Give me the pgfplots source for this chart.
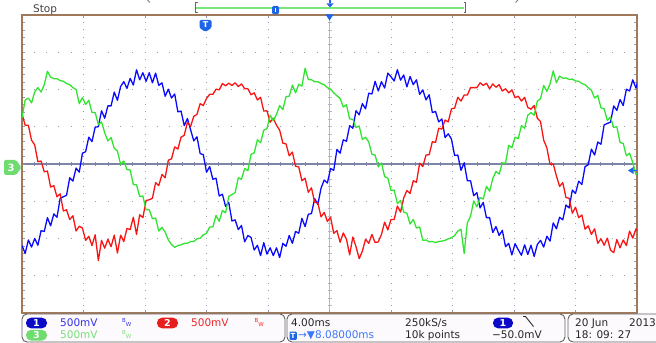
\documentclass[border=0pt]{standalone}
\usepackage{pgfplots}
\pgfplotsset{compat=1.18}
\usepackage{pgfplotstable}
\usepackage{fontspec}
\setmainfont{DejaVu Sans}
\newcommand{\sz}{\fontsize{10.5bp}{12bp}\selectfont}
\definecolor{chblue}{RGB}{10,10,255}
\definecolor{chred}{RGB}{250,20,20}
\definecolor{chgreen}{RGB}{50,228,50}
\definecolor{framec}{RGB}{160,120,90}
\definecolor{griddot}{RGB}{150,155,180}
\definecolor{centerline}{RGB}{125,132,165}
\definecolor{vcenter}{RGB}{180,182,200}
\definecolor{pillblue}{RGB}{10,10,200}
\definecolor{pillred}{RGB}{230,30,30}
\definecolor{pillgreen}{RGB}{110,220,110}
\definecolor{txtblue}{RGB}{50,50,230}
\definecolor{txtred}{RGB}{235,40,40}
\definecolor{txtgreen}{RGB}{120,220,120}
\definecolor{lightblue}{RGB}{60,120,250}
\definecolor{markblue}{RGB}{30,100,230}
\definecolor{boxfill}{RGB}{253,250,253}
\definecolor{boxdraw}{RGB}{95,95,95}
\definecolor{barkgreen}{RGB}{120,230,120}

\pgfplotstableread{
k b r g
0 -2.19 1.35 1.24
1 -2.40 1.04 1.72
2 -2.04 1.04 1.77
3 -2.23 0.64 1.64
4 -2.00 0.51 1.94
5 -2.18 0.06 2.05
6 -1.79 0.08 1.93
7 -1.81 -0.21 2.13
8 -1.44 -0.19 2.49
9 -1.66 -0.62 2.33
10 -1.34 -0.58 2.29
11 -1.43 -0.88 2.29
12 -0.92 -0.80 2.24
13 -0.88 -1.26 2.22
14 -0.84 -1.23 2.16
15 -0.37 -1.49 2.13
16 -0.46 -1.39 2.05
17 -0.11 -1.80 2.00
18 -0.22 -1.67 1.62
19 0.29 -1.72 1.78
20 0.33 -2.05 1.60
21 0.72 -1.94 1.71
22 0.60 -2.19 1.38
23 0.99 -1.90 1.38
24 1.00 -2.59 1.06
25 1.43 -2.05 1.13
26 1.23 -2.26 0.84
27 1.56 -2.02 0.62
28 1.56 -2.22 0.71
29 1.93 -1.91 0.42
30 1.71 -2.39 0.35
31 2.08 -1.91 -0.01
32 2.21 -2.08 0.08
33 2.03 -1.73 -0.15
34 2.30 -1.76 -0.16
35 2.12 -1.43 -0.55
36 2.53 -1.89 -0.56
37 2.26 -1.36 -0.87
38 2.45 -1.44 -0.86
39 2.22 -0.98 -1.23
40 2.45 -0.96 -1.23
41 2.18 -0.92 -1.47
42 2.44 -0.50 -1.45
43 2.11 -0.58 -1.80
44 2.18 -0.28 -1.70
45 1.82 -0.37 -1.83
46 2.01 0.10 -2.04
47 1.77 0.14 -2.16
48 1.88 0.46 -2.24
49 1.40 0.40 -2.19
50 1.42 0.72 -2.17
51 1.03 0.77 -2.13
52 1.22 1.12 -2.13
53 0.92 1.01 -2.08
54 0.62 1.28 -2.08
55 0.73 1.33 -2.01
56 0.28 1.62 -1.99
57 0.25 1.57 -1.90
58 -0.22 1.76 -1.86
59 -0.07 1.87 -1.69
60 -0.41 1.87 -1.69
61 -0.38 2.01 -1.38
62 -0.86 1.99 -1.54
63 -0.81 2.16 -1.25
64 -1.14 2.10 -1.31
65 -1.03 2.17 -0.87
66 -1.53 2.11 -0.82
67 -1.50 2.18 -0.77
68 -1.76 2.08 -0.37
69 -1.65 2.15 -0.41
70 -2.09 2.02 -0.12
71 -1.92 2.02 -0.18
72 -1.97 1.86 0.26
73 -2.31 1.91 0.30
74 -2.18 1.72 0.65
75 -2.46 1.79 0.57
76 -2.11 1.42 0.91
77 -2.42 1.43 0.95
78 -2.25 1.12 1.31
79 -2.46 1.23 1.16
80 -2.25 1.04 1.33
81 -2.51 0.91 1.57
82 -2.13 0.56 1.46
83 -2.21 0.54 1.81
84 -1.92 0.22 1.82
85 -2.13 0.32 2.12
86 -1.81 -0.06 1.91
87 -1.86 -0.08 2.14
88 -1.46 -0.45 2.09
89 -1.68 -0.38 2.57
90 -1.35 -0.76 2.27
91 -1.33 -0.64 2.26
92 -0.93 -1.03 2.21
93 -1.09 -1.04 2.21
94 -0.65 -1.42 2.16
95 -0.43 -1.30 2.13
96 -0.51 -1.54 2.05
97 -0.12 -1.43 2.01
98 -0.17 -1.86 1.91
99 0.39 -1.79 1.83
100 0.29 -2.10 1.76
101 0.65 -1.85 1.53
102 0.61 -2.02 1.59
103 1.03 -2.44 1.21
104 0.96 -1.96 1.20
105 1.43 -2.22 0.98
106 1.32 -2.54 1.02
107 1.62 -2.34 0.66
108 1.48 -2.02 0.72
109 1.90 -2.13 0.59
110 1.88 -1.89 0.26
111 2.22 -2.11 0.24
112 1.96 -2.09 -0.08
113 2.21 -1.89 0.03
114 2.04 -1.56 -0.34
115 2.44 -1.77 -0.38
116 2.34 -1.49 -0.71
117 2.23 -1.49 -0.70
118 2.53 -1.13 -1.06
119 2.25 -1.29 -0.98
120 2.39 -0.91 -1.29
121 2.07 -0.71 -1.32
122 2.35 -0.79 -1.61
123 2.13 -0.45 -1.49
124 2.26 -0.49 -1.72
125 1.87 0.02 -1.69
126 1.99 -0.07 -2.05
127 1.72 0.24 -2.04
128 1.86 0.25 -2.09
129 1.38 0.60 -2.08
130 1.41 0.58 -2.11
131 1.13 0.96 -2.08
132 1.21 0.94 -2.07
133 0.71 1.18 -2.05
134 0.81 1.13 -2.01
135 0.67 1.48 -1.98
136 0.23 1.50 -1.92
137 0.24 1.79 -1.80
138 -0.17 1.69 -1.75
139 0.03 1.85 -2.40
140 -0.45 1.85 -1.58
141 -0.45 2.05 -1.40
142 -0.85 2.05 -0.99
143 -0.77 2.05 -1.15
144 -1.18 2.18 -0.90
145 -1.03 2.11 -0.94
146 -1.44 2.17 -0.60
147 -1.44 2.02 -0.73
148 -1.84 2.15 -0.39
149 -1.68 2.06 -0.20
150 -1.92 2.13 -0.27
151 -1.78 1.96 0.03
152 -2.22 2.02 0.02
153 -2.13 1.91 0.50
154 -2.44 1.99 0.44
155 -2.14 1.78 0.72
156 -2.30 1.82 0.68
157 -2.45 1.69 1.03
158 -2.17 1.79 0.96
159 -2.43 1.52 1.31
160 -2.18 1.47 1.38
161 -2.48 1.57 1.31
162 -2.16 1.23 1.69
163 -2.05 1.14 1.75
164 -2.23 0.64 2.11
165 -1.94 0.43 1.95
166 -2.07 -0.01 2.15
167 -1.58 0.00 2.50
168 -1.74 -0.32 2.18
169 -1.43 -0.60 2.36
170 -1.50 -0.50 2.30
171 -1.10 -0.90 2.31
172 -1.18 -0.92 2.27
173 -0.70 -1.32 2.28
174 -0.79 -1.16 2.23
175 -0.46 -1.44 2.22
176 -0.55 -1.37 2.16
177 -0.07 -1.75 2.13
178 -0.02 -1.66 2.05
179 0.40 -1.89 1.98
180 0.24 -1.74 1.77
181 0.59 -2.13 1.84
182 0.53 -2.01 1.51
183 1.05 -2.18 1.48
184 1.09 -1.99 1.17
185 1.12 -2.31 1.26
186 1.56 -2.38 0.98
187 1.44 -2.03 1.00
188 1.73 -2.25 0.58
189 1.57 -2.04 0.55
190 2.01 -2.19 0.22
191 1.96 -1.80 0.29
192 2.26 -1.99 0.04
193 2.04 -1.74 -0.28
194 2.33 -1.85 -0.22
}\scopedata

\begin{document}
\begin{tikzpicture}
\useasboundingbox (0,0) rectangle (656bp,343bp);
\begin{scope}[x=1bp,y=1bp]
% dotted graticule
\foreach \X in {83.5,145,206.5,268,391,452.5,514,575.5}
  \draw[griddot, line width=0.9bp, dash pattern=on 0.9bp off 6.55bp, dash phase=0.45bp] (\X,30) -- (\X,328);
\foreach \Y in {67.25,104.5,141.75,216.25,253.5,290.75}
  \draw[griddot, line width=0.9bp, dash pattern=on 0.9bp off 11.4bp, dash phase=0.45bp] (22,\Y) -- (637,\Y);
% centre lines
\draw[vcenter, line width=1bp] (329.5,30) -- (329.5,328);
\foreach \i in {1,...,39}
  \draw[vcenter, line width=0.7bp] (327.5,{30+7.45*\i}) -- (331.5,{30+7.45*\i});
\draw[centerline, line width=1.2bp] (22,179) -- (637,179);
\foreach \i in {1,...,49}
  \draw[centerline, line width=0.7bp] ({22+12.3*\i},177) -- ({22+12.3*\i},181);
\end{scope}

\begin{axis}[at={(22bp,30bp)}, anchor=south west, scale only axis,
  width=615bp, height=298bp,
  xmin=0, xmax=193.3333, ymin=-4, ymax=4,
  axis line style={draw=framec, line width=1.3bp},
  xtick={0,19.3333,38.6667,58,77.3333,96.6667,116,135.3333,154.6667,174,193.3333},
  ytick={-4,-3,-2,-1,0,1,2,3,4},
  minor x tick num=4, minor y tick num=4,
  xticklabels={}, yticklabels={},
  tick align=inside, major tick length=3bp, minor tick length=3bp,
  tick style={griddot, line width=0.7bp}]
\addplot[chblue, line width=1.3bp, line join=round] table[x=k, y=b] {\scopedata};
\addplot[chred, line width=1.3bp, line join=round] table[x=k, y=r] {\scopedata};
\addplot[chgreen, line width=1.3bp, line join=round] table[x=k, y=g] {\scopedata};
\end{axis}

\begin{scope}[x=1bp,y=1bp]
% channel 3 marker
\fill[pillgreen, rounded corners=1.5bp] (4,168) -- (4,183) -- (16,183) -- (21.5,175.5) -- (16,168) -- cycle;
\node[text=white, font=\bfseries\fontsize{10bp}{10bp}\selectfont, inner sep=0] at (11,175.5) {3};
% trigger level marker
\fill[markblue] (628,172.5) -- (633.5,176) -- (633.5,169) -- cycle;
\draw[markblue, line width=1.2bp] (633,172.5) -- (637,172.5);
% trigger position markers
\fill[markblue] (325.5,328.5) -- (333.5,328.5) -- (329.5,322.5) -- cycle;
\fill[markblue, rounded corners=1.5bp] (199.5,323) -- (211.5,323) -- (211.5,315) -- (205.5,311) -- (199.5,315) -- cycle;
\node[text=white, font=\bfseries\fontsize{8bp}{8bp}\selectfont, inner sep=0] at (205.5,318) {T};
% top bar
\draw[black!60, line width=1bp] (197.5,340) -- (195.5,340) -- (195.5,330) -- (197.5,330);
\draw[barkgreen, line width=1.3bp] (196,335) -- (464,335);
\draw[black!60, line width=1bp] (463.5,340) -- (465.5,340) -- (465.5,330) -- (463.5,330);
\fill[markblue, rounded corners=1.5bp] (272,328.5) rectangle (279,337);
\draw[white, line width=0.8bp] (275.5,330.5) -- (275.5,335);
\draw[markblue, line width=1.2bp] (330,343) -- (330,339.5);
\fill[markblue] (326.5,339.5) -- (333.5,339.5) -- (330,335.5) -- cycle;
\draw[black!50, line width=0.8bp] (147.5,343) -- (150,340.5);
\draw[black!50, line width=0.8bp] (518,343) -- (515.5,340.5);
\node[anchor=base west, text=black!75, font=\sz, inner sep=0] at (33,331) {Stop};
% bottom boxes
\draw[boxdraw, fill=boxfill, line width=0.9bp, rounded corners=5bp] (22,1) rectangle (285,29);
\draw[boxdraw, fill=boxfill, line width=0.9bp, rounded corners=5bp] (287,1) rectangle (565,29);
\draw[boxdraw, fill=boxfill, line width=0.9bp, rounded corners=5bp] (568,1) rectangle (664,29);
% pills
\fill[pillblue, rounded corners=5bp] (26,14.7) rectangle (47,25.3);
\node[text=white, font=\bfseries\fontsize{9.5bp}{9.5bp}\selectfont, inner sep=0] at (36.5,20) {1};
\fill[pillred, rounded corners=5bp] (157,14.7) rectangle (178,25.3);
\node[text=white, font=\bfseries\fontsize{9.5bp}{9.5bp}\selectfont, inner sep=0] at (167.5,20) {2};
\fill[pillgreen, rounded corners=5bp] (26,2.5) rectangle (47,13.1);
\node[text=white, font=\bfseries\fontsize{9.5bp}{9.5bp}\selectfont, inner sep=0] at (36.5,7.8) {3};
\fill[pillblue, rounded corners=5bp] (493,14.7) rectangle (513,25.3);
\node[text=white, font=\bfseries\fontsize{9.5bp}{9.5bp}\selectfont, inner sep=0] at (503,20) {1};
% channel texts
\node[anchor=base west, text=txtblue, font=\sz, inner sep=0] at (60,16.5) {500mV};
\node[anchor=base west, text=txtred, font=\sz, inner sep=0] at (191,16.5) {500mV};
\node[anchor=base west, text=txtgreen, font=\sz, inner sep=0] at (60,5) {500mV};
\node[text=txtblue, font=\fontsize{5.5bp}{6bp}\selectfont, inner sep=0] at (124,23) {B};
\node[text=txtblue, font=\fontsize{5.5bp}{6bp}\selectfont, inner sep=0] at (128.5,19) {W};
\node[text=txtred, font=\fontsize{5.5bp}{6bp}\selectfont, inner sep=0] at (256.5,23) {B};
\node[text=txtred, font=\fontsize{5.5bp}{6bp}\selectfont, inner sep=0] at (261,19) {W};
\node[text=txtgreen, font=\fontsize{5.5bp}{6bp}\selectfont, inner sep=0] at (124,11) {B};
\node[text=txtgreen, font=\fontsize{5.5bp}{6bp}\selectfont, inner sep=0] at (128.5,7) {W};
% timebase texts
\node[anchor=base west, text=black!85, font=\sz, inner sep=0] at (291,16.5) {4.00ms};
\fill[markblue, rounded corners=1bp] (289.5,3.2) rectangle (296.8,11.3);
\node[text=white, font=\bfseries\fontsize{7bp}{7bp}\selectfont, inner sep=0] at (293.1,7.2) {T};
\node[anchor=base west, text=lightblue, font=\sz, inner sep=0] at (298,5) {→▼8.08000ms};
\node[anchor=base west, text=black!85, font=\sz, inner sep=0] at (405,16.5) {250kS/s};
\node[anchor=base west, text=black!85, font=\sz, inner sep=0] at (405,5) {10k points};
\draw[black!85, line width=0.9bp] (523,26.5) -- (525.5,26.5) -- (533.5,16.5);
\node[anchor=base west, text=black!85, font=\sz, inner sep=0] at (492,5) {−50.0mV};
\node[anchor=base west, text=black!85, font=\sz, inner sep=0] at (575,16.5) {20 Jun};
\node[anchor=base west, text=black!85, font=\sz, inner sep=0] at (629,16.5) {2013};
\node[anchor=base west, text=black!85, font=\sz, inner sep=0] at (575,5) {18: 09: 27};
\end{scope}
\end{tikzpicture}
\end{document}
